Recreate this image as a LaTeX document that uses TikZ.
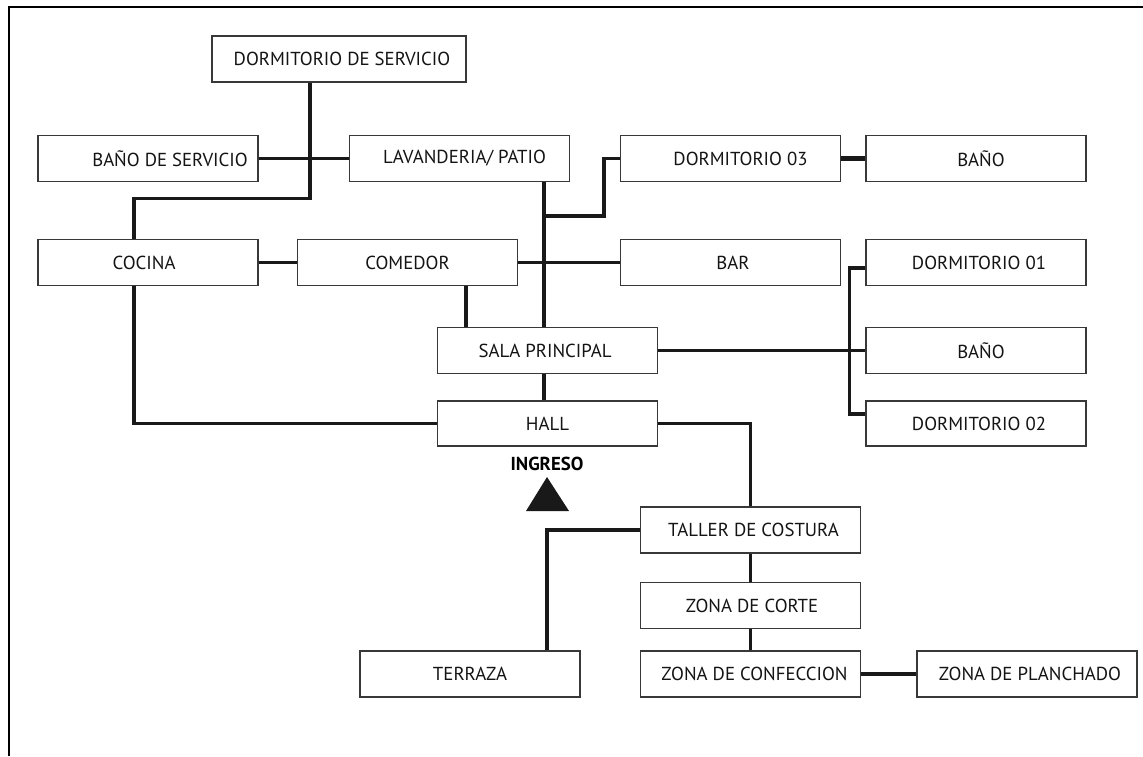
\documentclass[tikz,border=0pt]{standalone}
\usepackage{fontspec}
\setmainfont{PT Sans}
\begin{document}
\begin{tikzpicture}[x=1pt,y=-1pt,
  box/.style={draw=black!78,line width=1.2pt,minimum width=220pt,minimum height=46pt,inner sep=0pt,font=\fontsize{18.8}{20}\selectfont,text=black!92},
  conn/.style={draw=black!90,line width=3.3pt},
  connthick/.style={draw=black!90,line width=4.8pt}]
\useasboundingbox (0,0) rectangle (1143,756);
\fill[white] (0,0) rectangle (1143,756);
\draw[line width=2.2pt] (9,756) -- (9,7) -- (1143,7);
% boxes
\node[box,minimum width=254pt] (dserv) at (339,59) {\hspace*{6pt}DORMITORIO DE SERVICIO};
\node[box] (bserv) at (148,158.5) {\hspace*{44pt}BAÑO DE SERVICIO};
\node[box] (lav) at (459.5,158.5) {\hspace*{10pt}LAVANDERIA/ PATIO};
\node[box] (d03) at (730.5,158.5) {\hspace*{20pt}DORMITORIO 03};
\node[box] (bano1) at (976,158.5) {\hspace*{10pt}BAÑO};
\node[box] (cocina) at (148,262.5) {COCINA\hspace*{8pt}};
\node[box] (comedor) at (407.5,262.5) {COMEDOR};
\node[box] (bar) at (730.5,262.5) {\hspace*{5pt}BAR};
\node[box] (d01) at (976,262.5) {\hspace*{6pt}DORMITORIO 01};
\node[box] (sala) at (547.5,350.5) {SALA PRINCIPAL\hspace*{5pt}};
\node[box] (bano2) at (976,350.5) {\hspace*{10pt}BAÑO};
\node[box,minimum height=45pt] (hall) at (547.5,423.5) {HALL};
\node[box,minimum height=45pt] (d02) at (976,423.5) {\hspace*{6pt}DORMITORIO 02};
\node[box] (taller) at (750.5,530) {\hspace*{6pt}TALLER DE COSTURA};
\node[box] (corte) at (750.5,605.5) {\hspace*{3pt}ZONA DE CORTE};
\node[box] (terraza) at (470,674) {TERRAZA};
\node[box] (confec) at (750.5,674) {\hspace*{8pt}ZONA DE CONFECCION};
\node[box] (planch) at (1027,674) {\hspace*{6pt}ZONA DE PLANCHADO};
% ingreso
\node[font=\fontsize{18.8}{20}\selectfont\bfseries,inner sep=0pt] (ingreso) at (547,464) {INGRESO};
\fill[black!90] (547,477) -- (569,511) -- (526,511) -- cycle;
% connectors
\draw[conn] ([xshift=-29pt]dserv.south) -- ++(0,116) -| ([xshift=-14pt]cocina.north);
\draw[conn] (bserv.east) -- (lav.west);
\draw[conn] ([xshift=84.5pt]lav.south) -- ([xshift=-3.5pt]sala.north);
\coordinate (b1) at (544,216);
\draw[conn] (b1) -- (604,216) |- (d03.west);
\draw[connthick] (d03.east) -- (bano1.west);
\draw[conn] (cocina.east) -- (comedor.west);
\draw[conn] (comedor.east) -- (bar.west);
\draw[conn] ([xshift=58.5pt]comedor.south) -- ([xshift=-81.5pt]sala.north);
\draw[conn] ([xshift=-14pt]cocina.south) |- (hall.west);
\draw[conn] (sala.east) -- (bano2.west);
\draw[conn] ([yshift=-5.5pt]d01.west) -- ++(-16,0) |- ([yshift=9.5pt]d02.west);
\draw[conn] ([xshift=-3.5pt]sala.south) -- ([xshift=-3.5pt]hall.north);
\draw[conn] (hall.east) -| (taller.north);
\draw[conn] (taller.west) -| ([xshift=77pt]terraza.north);
\draw[conn] (taller.south) -- (corte.north);
\draw[conn] (corte.south) -- (confec.north);
\draw[connthick] (confec.east) -- (planch.west);
\end{tikzpicture}
\end{document}
